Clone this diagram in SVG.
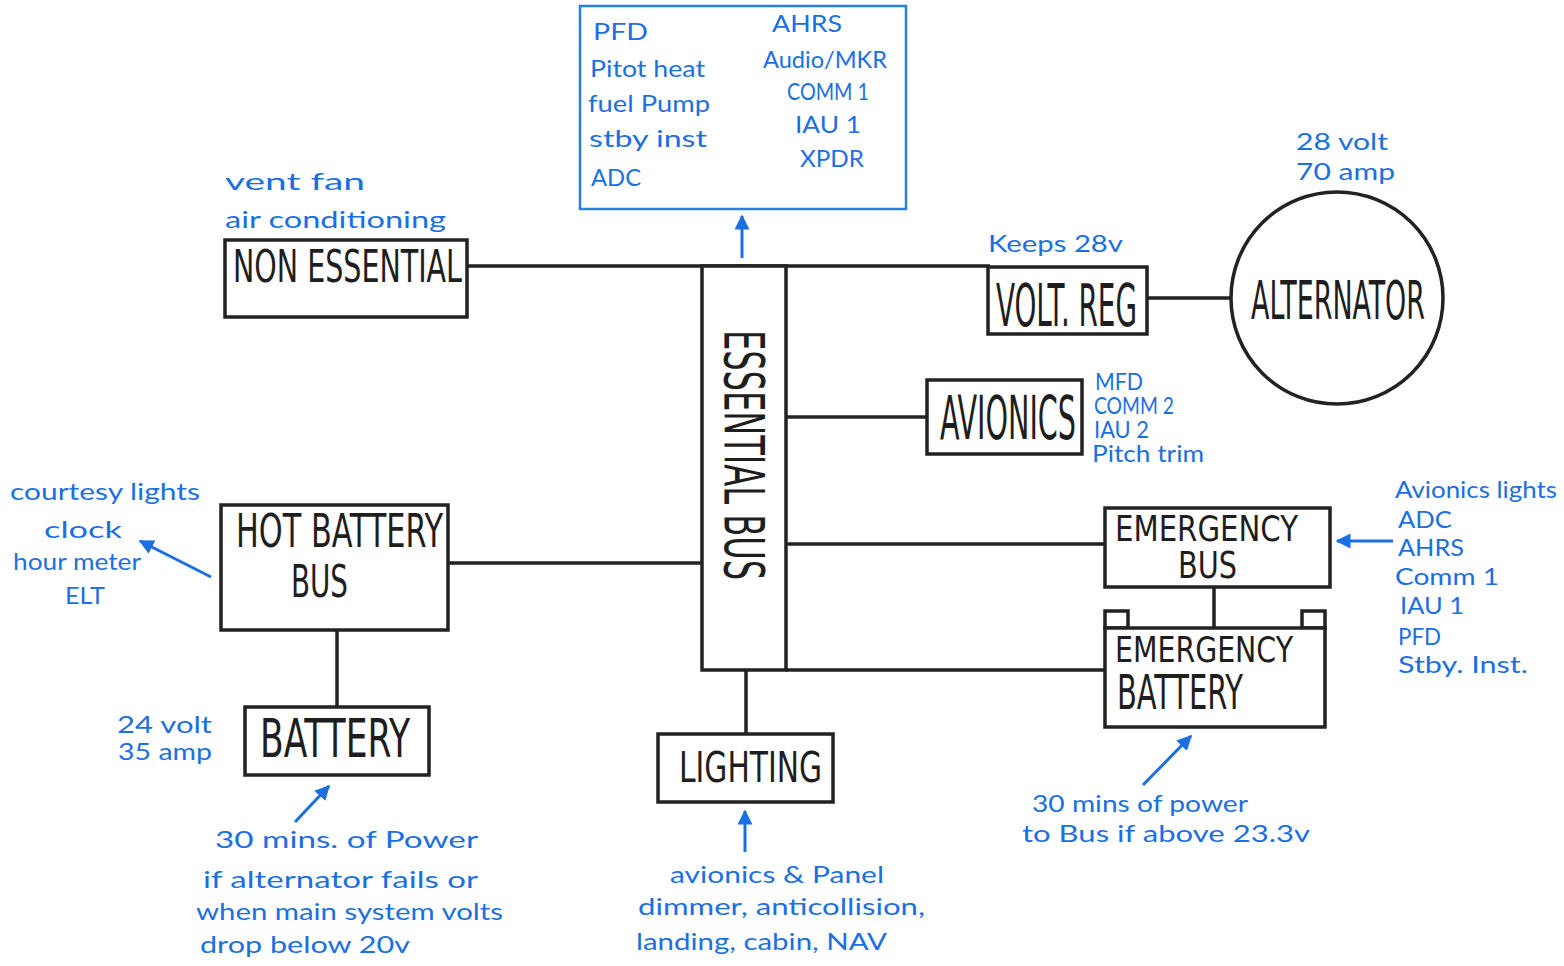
<svg xmlns="http://www.w3.org/2000/svg" width="1564" height="966" viewBox="0 0 1564 966">
<style>
.box{fill:#fff;stroke:#222;stroke-width:3.5}
.ln{fill:none;stroke:#222;stroke-width:3.5}
.lbl{font-family:"DejaVu Sans Condensed","DejaVu Sans",sans-serif;font-stretch:condensed;fill:#1e1e1e}
.bt{font-family:"Lato","Noto Sans",sans-serif;fill:#1b6fe3;font-size:24px}
.ba{fill:none;stroke:#1b6fe3;stroke-width:3}
</style>
<defs>
<marker id="ah" viewBox="0 0 10 10" refX="9" refY="5" markerWidth="5" markerHeight="5" orient="auto" markerUnits="strokeWidth">
<path d="M0,0 L10,5 L0,10 z" fill="#1b6fe3"/>
</marker>
</defs>
<rect width="1564" height="966" fill="#fff"/>

<g id="connectors">
<line class="ln" x1="467" y1="266" x2="990" y2="266"/>
<line class="ln" x1="1147" y1="298" x2="1232" y2="298"/>
<line class="ln" x1="786" y1="417" x2="927" y2="417"/>
<line class="ln" x1="786" y1="544" x2="1105" y2="544"/>
<line class="ln" x1="786" y1="670" x2="1105" y2="670"/>
<line class="ln" x1="1214" y1="587" x2="1214" y2="628"/>
<line class="ln" x1="448" y1="563" x2="702" y2="563"/>
<line class="ln" x1="337" y1="630" x2="337" y2="707"/>
<line class="ln" x1="746" y1="670" x2="746" y2="734"/>
<line class="ba" x1="742" y1="258" x2="742" y2="216" marker-end="url(#ah)"/>
<line class="ba" x1="211" y1="577" x2="140" y2="541" marker-end="url(#ah)"/>
<line class="ba" x1="1393" y1="541" x2="1337" y2="541" marker-end="url(#ah)"/>
<line class="ba" x1="295" y1="822" x2="329" y2="786" marker-end="url(#ah)"/>
<line class="ba" x1="745" y1="852" x2="745" y2="811" marker-end="url(#ah)"/>
<line class="ba" x1="1143" y1="785" x2="1191" y2="736" marker-end="url(#ah)"/>
</g>

<g id="essential-loads">
<rect x="580" y="6" width="326" height="203" fill="#fff" stroke="#2a7de1" stroke-width="2.5"/>
<text class="bt" x="593" y="40" font-size="30" textLength="55" lengthAdjust="spacingAndGlyphs">PFD</text>
<text class="bt" x="590" y="77" textLength="115" lengthAdjust="spacingAndGlyphs">Pitot heat</text>
<text class="bt" x="588" y="112" textLength="122" lengthAdjust="spacingAndGlyphs">fuel Pump</text>
<text class="bt" x="589" y="147" textLength="118" lengthAdjust="spacingAndGlyphs">stby inst</text>
<text class="bt" x="591" y="186" textLength="50" lengthAdjust="spacingAndGlyphs">ADC</text>
<text class="bt" x="772" y="32" textLength="70" lengthAdjust="spacingAndGlyphs">AHRS</text>
<text class="bt" x="763" y="68" textLength="124" lengthAdjust="spacingAndGlyphs">Audio/MKR</text>
<text class="bt" x="787" y="100" textLength="82" lengthAdjust="spacingAndGlyphs">COMM 1</text>
<text class="bt" x="795" y="133" textLength="66" lengthAdjust="spacingAndGlyphs">IAU 1</text>
<text class="bt" x="800" y="167" textLength="64" lengthAdjust="spacingAndGlyphs">XPDR</text>
</g>

<g id="non-essential">
<rect class="box" x="225" y="240" width="242" height="77"/>
<text class="lbl" x="233" y="282" font-size="44" textLength="229" lengthAdjust="spacingAndGlyphs">NON  ESSENTIAL</text>
<text class="bt" x="225" y="190" font-size="28" textLength="140" lengthAdjust="spacingAndGlyphs">vent  fan</text>
<text class="bt" x="225" y="228" font-size="28" textLength="221" lengthAdjust="spacingAndGlyphs">air conditioning</text>
</g>

<g id="essential-bus">
<rect class="box" x="702" y="266" width="84" height="404"/>
<text class="lbl" transform="translate(725,330) rotate(90)" font-size="56" textLength="250" lengthAdjust="spacingAndGlyphs">ESSENTIAL BUS</text>
</g>

<g id="volt-reg">
<rect class="box" x="988" y="267" width="159" height="67"/>
<text class="lbl" x="996" y="326" font-size="58" textLength="141" lengthAdjust="spacingAndGlyphs">VOLT. REG</text>
<text class="bt" x="988" y="252" font-size="26" textLength="135" lengthAdjust="spacingAndGlyphs">Keeps 28v</text>
</g>

<g id="alternator">
<circle cx="1337" cy="298" r="106" fill="#fff" stroke="#222" stroke-width="3.5"/>
<text class="lbl" x="1251" y="319" font-size="54" textLength="174" lengthAdjust="spacingAndGlyphs">ALTERNATOR</text>
<text class="bt" x="1296" y="150" font-size="28" textLength="92" lengthAdjust="spacingAndGlyphs">28 volt</text>
<text class="bt" x="1296" y="180" font-size="28" textLength="99" lengthAdjust="spacingAndGlyphs">70 amp</text>
</g>

<g id="avionics">
<rect class="box" x="927" y="380" width="155" height="74"/>
<text class="lbl" x="940" y="439" font-size="60" textLength="136" lengthAdjust="spacingAndGlyphs">AVIONICS</text>
<text class="bt" x="1095" y="390" font-size="18" textLength="48" lengthAdjust="spacingAndGlyphs">MFD</text>
<text class="bt" x="1094" y="414" font-size="18" textLength="80" lengthAdjust="spacingAndGlyphs">COMM 2</text>
<text class="bt" x="1094" y="438" font-size="18" textLength="55" lengthAdjust="spacingAndGlyphs">IAU 2</text>
<text class="bt" x="1092" y="462" font-size="18" textLength="112" lengthAdjust="spacingAndGlyphs">Pitch trim</text>
</g>

<g id="emergency-bus">
<rect class="box" x="1105" y="508" width="225" height="79"/>
<text class="lbl" x="1115" y="541" font-size="36" textLength="183" lengthAdjust="spacingAndGlyphs">EMERGENCY</text>
<text class="lbl" x="1178" y="578" font-size="38" textLength="59" lengthAdjust="spacingAndGlyphs">BUS</text>
<text class="bt" x="1395" y="498" textLength="162" lengthAdjust="spacingAndGlyphs">Avionics lights</text>
<text class="bt" x="1398" y="528" textLength="54" lengthAdjust="spacingAndGlyphs">ADC</text>
<text class="bt" x="1398" y="556" textLength="66" lengthAdjust="spacingAndGlyphs">AHRS</text>
<text class="bt" x="1395" y="585" textLength="104" lengthAdjust="spacingAndGlyphs">Comm 1</text>
<text class="bt" x="1400" y="614" textLength="64" lengthAdjust="spacingAndGlyphs">IAU 1</text>
<text class="bt" x="1398" y="645" textLength="43" lengthAdjust="spacingAndGlyphs">PFD</text>
<text class="bt" x="1398" y="673" textLength="130" lengthAdjust="spacingAndGlyphs">Stby. Inst.</text>
</g>

<g id="emergency-battery">
<rect class="box" x="1105" y="611" width="23" height="17"/>
<rect class="box" x="1302" y="611" width="23" height="17"/>
<rect class="box" x="1105" y="628" width="220" height="99"/>
<text class="lbl" x="1115" y="662" font-size="36" textLength="178" lengthAdjust="spacingAndGlyphs">EMERGENCY</text>
<text class="lbl" x="1117" y="709" font-size="48" textLength="126" lengthAdjust="spacingAndGlyphs">BATTERY</text>
<text class="bt" x="1032" y="812" textLength="216" lengthAdjust="spacingAndGlyphs">30 mins of power</text>
<text class="bt" x="1022" y="842" textLength="288" lengthAdjust="spacingAndGlyphs">to Bus  if above 23.3v</text>
</g>

<g id="hot-battery-bus">
<rect class="box" x="221" y="505" width="227" height="125"/>
<text class="lbl" x="236" y="547" font-size="46" textLength="207" lengthAdjust="spacingAndGlyphs">HOT  BATTERY</text>
<text class="lbl" x="291" y="597" font-size="44" textLength="57" lengthAdjust="spacingAndGlyphs">BUS</text>
<text class="bt" x="10" y="500" font-size="28" textLength="190" lengthAdjust="spacingAndGlyphs">courtesy lights</text>
<text class="bt" x="44" y="538" font-size="28" textLength="78" lengthAdjust="spacingAndGlyphs">clock</text>
<text class="bt" x="13" y="570" font-size="28" textLength="128" lengthAdjust="spacingAndGlyphs">hour meter</text>
<text class="bt" x="65" y="604" font-size="28" textLength="40" lengthAdjust="spacingAndGlyphs">ELT</text>
</g>

<g id="battery">
<rect class="box" x="245" y="707" width="184" height="68"/>
<text class="lbl" x="260" y="757" font-size="54" textLength="150" lengthAdjust="spacingAndGlyphs">BATTERY</text>
<text class="bt" x="117" y="733" font-size="26" textLength="95" lengthAdjust="spacingAndGlyphs">24 volt</text>
<text class="bt" x="118" y="760" font-size="26" textLength="94" lengthAdjust="spacingAndGlyphs">35 amp</text>
<text class="bt" x="215" y="848" font-size="28" textLength="263" lengthAdjust="spacingAndGlyphs">30 mins. of Power</text>
<text class="bt" x="203" y="888" font-size="28" textLength="275" lengthAdjust="spacingAndGlyphs">if alternator fails or</text>
<text class="bt" x="196" y="920" font-size="28" textLength="307" lengthAdjust="spacingAndGlyphs">when  main system volts</text>
<text class="bt" x="200" y="953" font-size="28" textLength="210" lengthAdjust="spacingAndGlyphs">drop below 20v</text>
</g>

<g id="lighting">
<rect class="box" x="658" y="734" width="175" height="68"/>
<text class="lbl" x="679" y="782" font-size="42" textLength="143" lengthAdjust="spacingAndGlyphs">LIGHTING</text>
<text class="bt" x="670" y="883" font-size="28" textLength="214" lengthAdjust="spacingAndGlyphs">avionics &amp; Panel</text>
<text class="bt" x="638" y="915" font-size="28" textLength="287" lengthAdjust="spacingAndGlyphs">dimmer, anticollision,</text>
<text class="bt" x="636" y="950" font-size="28" textLength="251" lengthAdjust="spacingAndGlyphs">landing, cabin, NAV</text>
</g>
</svg>
